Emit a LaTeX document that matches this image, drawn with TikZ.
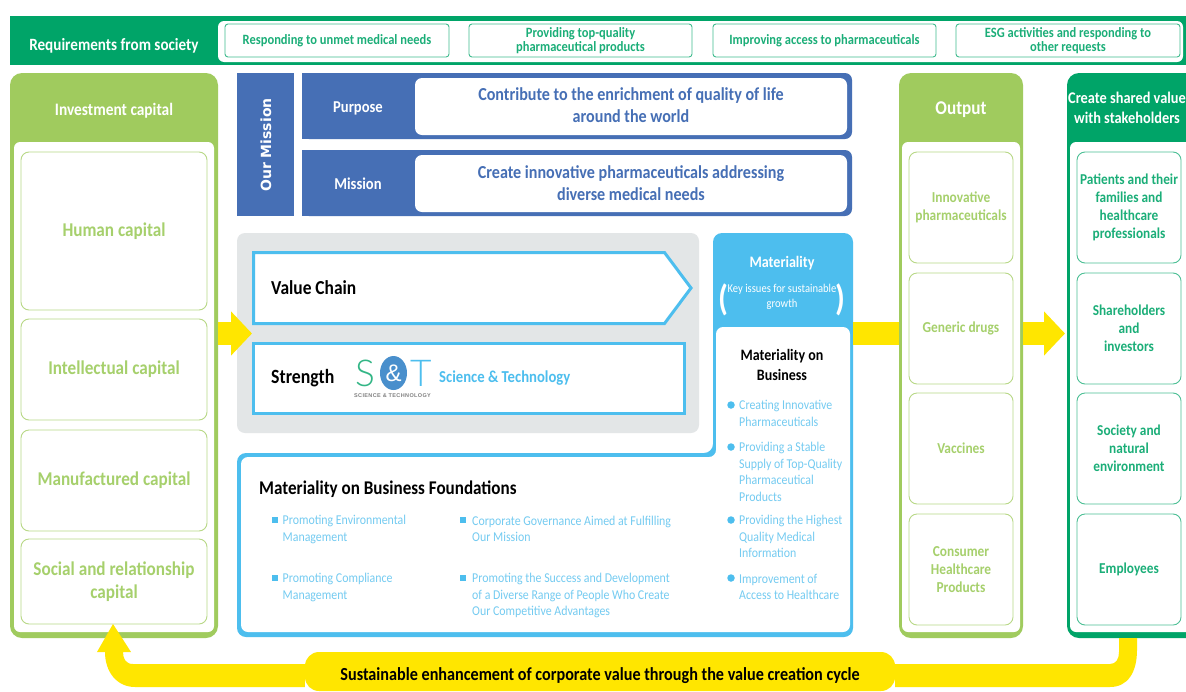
\documentclass[tikz,border=0pt]{standalone}
\usepackage{fontspec}
\setmainfont{Carlito}[FakeStretch=0.88]
\newfontfamily\wideb{DejaVu Sans}
\newfontfamily\logof{Lato}[UprightFont=* Light]
\newfontfamily\logos{Liberation Sans}[LetterSpace=7]
\newfontfamily\logoa{Liberation Sans}
\usetikzlibrary{arrows.meta,calc,shapes.geometric}
\definecolor{dgreen}{HTML}{00A468}
\definecolor{lgreen}{HTML}{A0CB5E}
\definecolor{ltext}{HTML}{A6D06C}
\definecolor{gtext}{HTML}{1BAE78}
\definecolor{mblue}{HTML}{466FB5}
\definecolor{sky}{HTML}{4DBEEE}
\definecolor{skytext}{HTML}{74CBF1}
\definecolor{yel}{HTML}{FFE600}
\definecolor{panelgrey}{HTML}{E3E6E7}
\newcommand\myfs[1]{\fontsize{#1}{#1}\selectfont}
\newcommand\myls[2]{\fontsize{#1}{#2}\selectfont}
% name, style, x1, y1, x2, y2, text
\newcommand\bx[7]{\node[#2,inner sep=0pt,outer sep=0pt,minimum width={(#5)-(#3)},minimum height={(#6)-(#4)},anchor=center] (#1) at ({((#3)+(#5))/2},{((#4)+(#6))/2}) {#7};}
\tikzset{
  x=1pt,y=-1pt,
  pill/.style={draw=dgreen!75,fill=white,line width=.9pt,rounded corners=3pt,text=gtext,align=center,font=\bfseries\myls{14.2}{14}},
  lbox/.style={draw=lgreen!75,fill=white,line width=.9pt,rounded corners=8pt,text=ltext,align=center},
  gbox/.style={draw=dgreen!70,fill=white,line width=.9pt,rounded corners=8pt,text=gtext,align=center,font=\bfseries\myls{15.1}{18}},
  whitepanel/.style={fill=white,rounded corners=6pt},
  outerl/.style={fill=lgreen,rounded corners=12pt},
  outerg/.style={fill=dgreen,rounded corners=12pt},
  head/.style={text=white,align=center},
  bluebar/.style={fill=mblue},
  statement/.style={fill=white,rounded corners=7pt},
  stmttext/.style={text=mblue,align=center,font=\bfseries\myls{18.3}{22.5}},
  skybox/.style={draw=sky,line width=3pt,fill=white},
  blk/.style={text=black,inner sep=0pt,font=\bfseries},
  li/.style={text=skytext,inner sep=0pt,anchor=west,align=left,font=\myls{13.5}{16.6}},
  yarrow/.style={draw=yel,line width=23pt,-{Triangle[length=21pt,width=43pt]}},
  yfill/.style={fill=yel},
  sqb/.style={fill=sky,minimum size=6pt,inner sep=0pt},
  cb/.style={fill=sky,circle,minimum size=7.5pt,inner sep=0pt}
}
\begin{document}
\begin{tikzpicture}
\clip (0,0) rectangle (1186,691);
\fill[white] (0,0) rectangle (1186,691);
% top band
\bx{band}{fill=dgreen}{10}{16}{1190}{65}{}
\bx{bandw}{fill=white,rounded corners=6pt}{218}{21}{1183}{62}{}
\node[head,font=\bfseries\myfs{17.2}] (req) at (114,46) {Requirements from society};
\bx{p1}{pill}{225}{24}{449}{57}{Responding to unmet medical needs}
\bx{p2}{pill}{469}{24}{692}{57}{Providing top-quality\\pharmaceutical products}
\bx{p3}{pill}{713}{24}{936}{57}{Improving access to pharmaceuticals}
\bx{p4}{pill}{956}{24}{1180}{57}{ESG activities and responding to\\other requests}
% investment
\bx{inv}{outerl}{10}{73}{218}{638}{}
\bx{invw}{whitepanel}{14}{142}{214}{632}{}
\node[head,font=\bfseries\myfs{17.5}] (invh) at (114,110.5) {Investment capital};
\bx{c1}{lbox,font=\bfseries\myfs{19.5}}{21}{152}{207}{310}{Human capital}
\bx{c2}{lbox,font=\bfseries\myfs{19.5}}{21}{319}{207}{420}{Intellectual capital}
\bx{c3}{lbox,font=\bfseries\myfs{19.5}}{21}{430}{207}{531}{Manufactured capital}
\bx{c4}{lbox,font=\bfseries\myls{19.5}{23}}{21}{539}{207}{624}{Social and relationship\\capital}
% mission
\bx{om}{bluebar}{237}{73}{294}{216}{}
\node[rotate=90,text=white,font=\wideb\bfseries\myfs{14}] (omt) at (266,145) {Our Mission};
\bx{pu}{fill=mblue,rounded corners=7pt}{302}{73}{852}{139}{}
\bx{pua}{fill=mblue}{302}{73}{340}{139}{}
\bx{puw}{statement}{415}{78}{847}{135}{}
\node[stmttext] (put2) at (631,105) {Contribute to the enrichment of quality of life\\around the world};
\node[head,font=\bfseries\myfs{16.6}] (put) at (358,108) {Purpose};
\bx{mi}{fill=mblue,rounded corners=7pt}{302}{150}{852}{216}{}
\bx{mia}{fill=mblue}{302}{150}{340}{216}{}
\bx{miw}{statement}{415}{155}{847}{212}{}
\node[stmttext] (mit2) at (631,183) {Create innovative pharmaceuticals addressing\\diverse medical needs};
\node[head,font=\bfseries\myfs{16.6}] (mit) at (358,184) {Mission};
% grey panel
\bx{gp}{fill=panelgrey,rounded corners=8pt}{237}{233}{699}{433}{}
\draw[skybox] (253.5,252.5) coordinate (vc0) -- (664.5,252.5) -- (691,288) -- (664.5,323.5) -- (253.5,323.5) -- cycle;
\node[blk,anchor=west,font=\bfseries\myfs{19.8}] (vct) at (271,287.5) {Value Chain};
\bx{st}{skybox}{253.5}{343.5}{684}{413}{}
\node[blk,anchor=west,font=\bfseries\myfs{20.2}] (stt) at (271,378.5) {Strength};
% S&T logo
\node[text=dgreen!80,inner sep=0pt,font=\logof\myfs{37}] (lS) at (365,373) {S};
\node[fill=mblue!60!sky,ellipse,minimum width=27pt,minimum height=34pt,inner sep=0pt,text=white,font=\logoa\myfs{24}] (lA) at (393.5,373) {\&};
\node[text=sky,inner sep=0pt,font=\logof\myfs{37}] (lT) at (421,373) {T};
\node[text=black!50,inner sep=0pt,font=\logos\bfseries\myfs{5.5}] (lN) at (392.5,396) {SCIENCE \& TECHNOLOGY};
\node[text=sky,anchor=west,inner sep=0pt,font=\bfseries\myfs{16.7}] (stl) at (439,378) {Science \& Technology};
% materiality L-shaped frame
\fill[sky,rounded corners=9pt] (237,637) -- (237,453) -- (713,453) -- (713,233) -- (853,233) -- (853,637) -- cycle;
\fill[white,rounded corners=7pt] (241,632) -- (241,457) -- (716,457) -- (716,327) -- (850,327) -- (850,632) -- cycle;
\node[head,font=\bfseries\myfs{16}] (mat) at (782,263.5) {Materiality};
\node[head,font=\myls{12}{15}] (key) at (782,297) {Key issues for sustainable\\growth};
\node[text=white,inner sep=0pt,font=\bfseries\myfs{36}] (pl) at (723,300) {(};
\node[text=white,inner sep=0pt,font=\bfseries\myfs{36}] (pr) at (840,300) {)};
\node[blk,align=center,font=\bfseries\myls{15.9}{20}] (mob) at (782,365) {Materiality on\\Business};
\node[blk,anchor=west,font=\bfseries\myfs{19.4}] (mbf) at (259,489) {Materiality on Business Foundations};
% bullets left
\node[sqb] (b1) at (275,520) {};
\node[li] (t1) at (282.5,529.5) {Promoting Environmental\\Management};
\node[sqb] (b2) at (275,578) {};
\node[li] (t2) at (282.5,587.5) {Promoting Compliance\\Management};
\node[sqb] (b3) at (463,520) {};
\node[li] (t3) at (472,529) {Corporate Governance Aimed at Fulfilling\\Our Mission};
\node[sqb] (b4) at (463,578) {};
\node[li] (t4) at (472,595.5) {Promoting the Success and Development\\of a Diverse Range of People Who Create\\Our Competitive Advantages};
\node[cb] (b5) at (731,405) {};
\node[li] (t5) at (739,413.5) {Creating Innovative\\Pharmaceuticals};
\node[cb] (b6) at (731,447) {};
\node[li] (t6) at (739,472) {Providing a Stable\\Supply of Top-Quality\\Pharmaceutical\\Products};
\node[cb] (b7) at (731,520) {};
\node[li] (t7) at (739,536.5) {Providing the Highest\\Quality Medical\\Information};
\node[cb] (b8) at (731,578) {};
\node[li] (t8) at (739,587) {Improvement of\\Access to Healthcare};
% output
\bx{out}{outerl}{899}{73}{1023}{638}{}
\bx{outw}{whitepanel}{902}{142}{1020}{632}{}
\node[head,font=\bfseries\myfs{19.5}] (outh) at (961,109.5) {Output};
\tikzset{lb2/.style={lbox,font=\bfseries\myls{15.2}{18}}}
\bx{o1}{lb2}{909}{152}{1013}{263}{Innovative\\pharmaceuticals}
\bx{o2}{lb2}{909}{273}{1013}{384}{Generic drugs}
\bx{o3}{lb2}{909}{393}{1013}{504}{Vaccines}
\bx{o4}{lb2}{909}{514}{1013}{625}{Consumer\\Healthcare\\Products}
% stakeholders
\bx{stk}{outerg}{1067}{73}{1200}{638}{}
\bx{stkw}{whitepanel}{1070}{142}{1195}{632}{}
\node[head,font=\bfseries\myls{16.3}{20}] (stkh) at (1127,108) {Create shared value\\with stakeholders};
\bx{s1}{gbox}{1077}{152}{1181}{263}{Patients and their\\families and\\healthcare\\professionals}
\bx{s2}{gbox}{1077}{273}{1181}{384}{Shareholders\\and\\investors}
\bx{s3}{gbox}{1077}{393}{1181}{504}{Society and\\natural\\environment}
\bx{s4}{gbox}{1077}{514}{1181}{625}{Employees}
% yellow connectors
\coordinate (ymid) at (0,333.5);
\draw[yarrow,shorten >=1.5pt] (inv.east |- ymid) -- (st.west |- ymid);
\draw[draw=yel,line width=23pt] (853,333.5) coordinate (mm) -- (out.west |- ymid);
\draw[yarrow,shorten >=2pt] (out.east |- ymid) -- (stk.west |- ymid);
% bottom loop
\node[fill=yel,rounded corners=14pt,minimum width=590pt,minimum height=39pt,inner sep=0pt] (cyc) at (600,671.5) {};
\node[font=\bfseries\myfs{18.4},text=black,inner sep=0pt] (cyct) at (600,676) {Sustainable enhancement of corporate value through the value creation cycle};
\coordinate (rO) at (1137,664);
\coordinate (rI) at (1119,664);
\fill[yfill] (stk.south -| rO) -- (1137,650) .. controls (1137,672) and (1128,687) .. (1110,687) -- (cyc.east |- 0,687) -- (cyc.east |- 0,664) -- (1110,664) .. controls (1116,664) and (1119,659) .. (1119,652) -- (stk.south -| rI) -- cycle;
\coordinate (lO) at (105,652);
\coordinate (lI) at (123,652);
\fill[yfill] (cyc.west |- 0,687) -- (135,687) .. controls (117,687) and (105,672) .. (lO) -- (97,652) -- (c4.south -| 113,0) -- (131,652) -- (lI) .. controls (123,659) and (126,664) .. (133,664) -- (cyc.west |- 0,664) -- cycle;
\end{tikzpicture}
\end{document}
